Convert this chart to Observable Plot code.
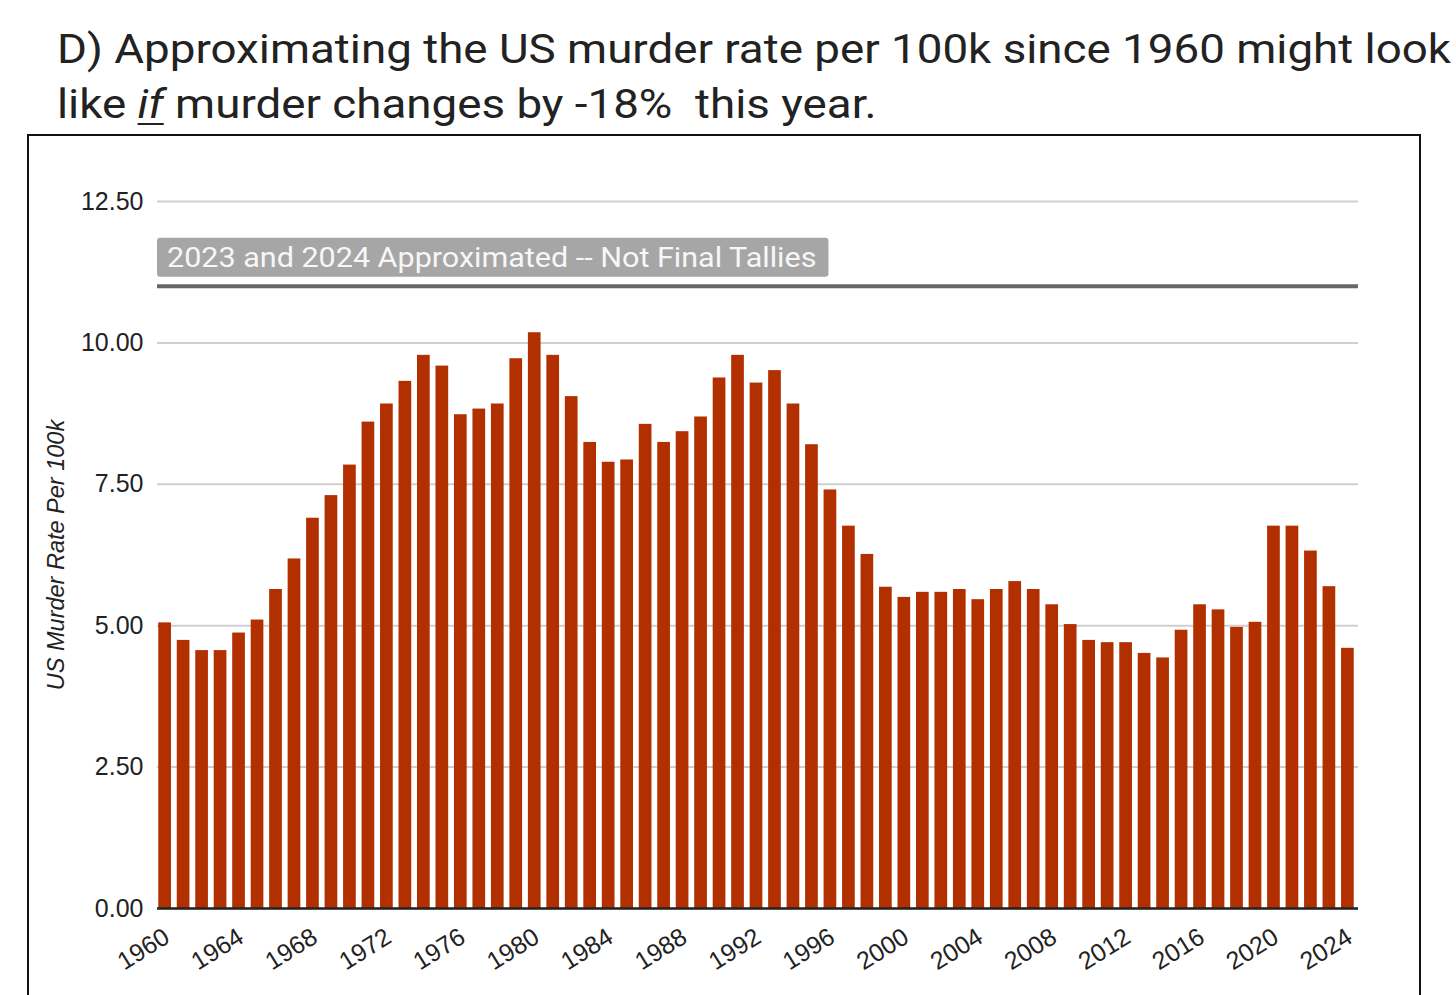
<!DOCTYPE html>
<html>
<head>
<meta charset="utf-8">
<script src="https://cdn.jsdelivr.net/npm/d3@7"></script>
<script src="https://cdn.jsdelivr.net/npm/@observablehq/plot@0.6"></script>
<style>
  html, body { margin: 0; padding: 0; background: #fff; overflow: hidden; }
  body { width: 1456px; height: 995px; position: relative; font-family: Roboto, sans-serif; }
  #title { position: absolute; left: 57px; top: 22px; font-size: 40px; line-height: 55px; color: #222; white-space: nowrap; transform: scaleX(1.143); transform-origin: 0 0; }
  #title u { text-decoration-thickness: 2px; text-underline-offset: 5px; }
  #frame { position: absolute; left: 27px; top: 134px; width: 1390px; height: 1000px; border: 2px solid #111; pointer-events: none; z-index: 2; }
  #chart { position: absolute; left: 0; top: 134px; z-index: 1; }
</style>
</head>
<body>
<div id="title">D) Approximating the US murder rate per 100k since 1960 might look<br>like <u><i>if</i></u> murder changes by -18%&nbsp; this year.</div>
<div id="chart"></div>
<div id="frame"></div>
<script>
const years = [1960,1961,1962,1963,1964,1965,1966,1967,1968,1969,
  1970,1971,1972,1973,1974,1975,1976,1977,1978,1979,
  1980,1981,1982,1983,1984,1985,1986,1987,1988,1989,
  1990,1991,1992,1993,1994,1995,1996,1997,1998,1999,
  2000,2001,2002,2003,2004,2005,2006,2007,2008,2009,
  2010,2011,2012,2013,2014,2015,2016,2017,2018,2019,
  2020,2021,2022,2023,2024];
const rates = [5.05,4.74,4.56,4.56,4.87,5.10,5.64,6.18,6.90,7.30,
  7.84,8.60,8.92,9.32,9.78,9.59,8.73,8.83,8.92,9.72,
  10.18,9.78,9.05,8.24,7.89,7.93,8.56,8.24,8.43,8.69,
  9.38,9.78,9.29,9.51,8.92,8.20,7.40,6.76,6.26,5.68,
  5.50,5.59,5.59,5.64,5.46,5.64,5.78,5.64,5.37,5.02,
  4.74,4.70,4.70,4.51,4.43,4.92,5.37,5.28,4.97,5.06,
  6.76,6.76,6.32,5.69,4.60];
const yTicks = [0, 2.5, 5, 7.5, 10, 12.5];
const xTicks = [1960,1964,1968,1972,1976,1980,1984,1988,1992,1996,2000,2004,2008,2012,2016,2020,2024];
const yLabel = "US Murder Rate Per 100k";
const noteText = "2023 and 2024 Approximated -- Not Final Tallies";
const noteBand = [11.16, 11.85];
const noteLine = 11;

const data = years.map((y, i) => ({year: y, rate: rates[i]}));
const axisFont = "'Liberation Sans', Arial, sans-serif";

function noteMark(index, scales, values, dimensions) {
  const ns = "http://www.w3.org/2000/svg";
  const g = document.createElementNS(ns, "g");
  g.setAttribute("class", "note");
  const x0 = dimensions.marginLeft;
  const yTop = scales.y(noteBand[1]);
  const yBot = scales.y(noteBand[0]);
  const rect = document.createElementNS(ns, "rect");
  rect.setAttribute("x", x0);
  rect.setAttribute("y", yTop);
  rect.setAttribute("width", 670);
  rect.setAttribute("height", yBot - yTop);
  rect.setAttribute("rx", 3);
  rect.setAttribute("fill", "#a6a6a6");
  g.appendChild(rect);
  const t = document.createElementNS(ns, "text");
  t.setAttribute("x", x0 + 10);
  t.setAttribute("y", (yTop + yBot) / 2);
  t.setAttribute("dy", "0.36em");
  t.setAttribute("text-anchor", "start");
  t.setAttribute("fill", "#f7f7f7");
  t.setAttribute("font-size", 28);
  t.setAttribute("font-family", "Roboto, sans-serif");
  t.textContent = noteText;
  g.appendChild(t);
  return g;
}

const chart = Plot.plot({
  width: 1456,
  height: 861,
  marginLeft: 157,
  marginRight: 98,
  marginTop: 67,
  marginBottom: 87,
  style: {background: "transparent", fontFamily: "Roboto, sans-serif", color: "#222", overflow: "visible"},
  x: {type: "band", domain: years, paddingInner: 0.313, paddingOuter: 0.15, align: 0.23},
  y: {domain: [0, 12.5]},
  marks: [
    Plot.ruleY(yTicks, {stroke: "#cfcfcf", strokeWidth: 2}),
    Plot.barY(data, {x: "year", y: "rate", fill: "#b23000"}),
    Plot.ruleY([0], {stroke: "#222", strokeWidth: 2.5}),
    Plot.ruleY([noteLine], {stroke: "#666", strokeWidth: 4}),
    noteMark,
    Plot.axisY({ticks: yTicks, tickFormat: d3.format(".2f"), tickSize: 0, tickPadding: 14, fontSize: 25, fontFamily: axisFont, label: null}),
    Plot.axisX({ticks: xTicks, tickFormat: d => String(d), tickSize: 0, tickPadding: 26, tickRotate: -32, fontSize: 25, fontFamily: axisFont, dx: 2, label: null}),
    Plot.text([yLabel], {frameAnchor: "left", rotate: -90, dx: -101, fontSize: 23.5, fontFamily: axisFont, fontStyle: "italic", fill: "#222", textAnchor: "middle"})
  ]
});
document.getElementById("chart").appendChild(chart);

function fitNote() {
  const g = chart.querySelector("g.note");
  if (!g) return;
  const t = g.querySelector("text");
  const r = g.querySelector("rect");
  t.removeAttribute("textLength");
  const w = t.getComputedTextLength();
  if (w > 0) {
    const target = w * 1.09;
    t.setAttribute("textLength", target);
    t.setAttribute("lengthAdjust", "spacingAndGlyphs");
    r.setAttribute("width", target + 22);
  }
}
fitNote();
if (document.fonts && document.fonts.ready) document.fonts.ready.then(fitNote);
</script>
</body>
</html>
